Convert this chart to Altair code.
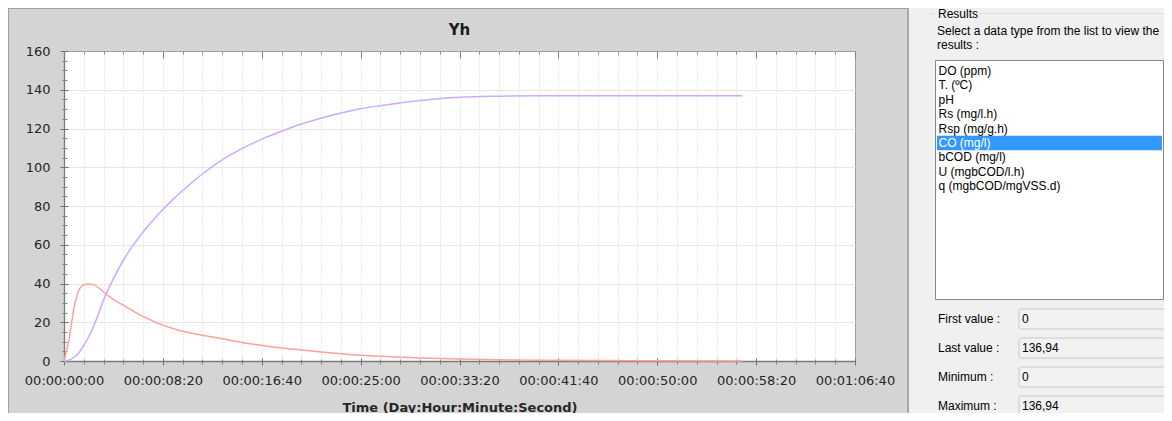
import altair as alt
import pandas as pd

# ---------------- data ----------------
time_s = [0, 25, 50, 75, 100, 125, 150, 175, 200, 250, 300, 350, 400, 450, 500, 550, 600,
          650, 700, 800, 900, 1000, 1100, 1200, 1300, 1400, 1500, 1600, 1800, 2000, 2200,
          2400, 2700, 3000, 3430]
purple_vals = [0, 0.4, 1.8, 4.3, 8, 12.5, 18, 24.5, 31.5, 42.5, 52, 59.8, 66.6, 72.6, 78.2,
               83.3, 88, 92.4, 96.5, 103.8, 109.6, 114.5, 118.6, 122.3, 125.3, 128, 130.2,
               131.8, 134.4, 136.1, 136.7, 136.9, 136.94, 136.94, 136.94]
red_vals = [0, 11, 27, 36.5, 39.3, 39.8, 39.3, 37.8, 35.6, 31.8, 28.8, 25.8, 23, 20.6, 18.5,
            16.8, 15.4, 14.3, 13.3, 11.5, 9.6, 8.1, 6.7, 5.7, 4.7, 3.8, 3.0, 2.4, 1.6, 1.0,
            0.65, 0.4, 0.2, 0.1, 0.05]
series_names = ["Serie 1", "Serie 2"]
series_colors = ["#cdaaff", "#ffa0a0"]

x_major = list(range(0, 4001, 500))
x_minor = [v for v in range(0, 4001, 100) if v % 500]
x_grid = list(range(100, 4000, 100))
y_major = list(range(0, 161, 20))
y_minor = [v for v in range(0, 161, 5) if v % 20]
y_grid = list(range(20, 160, 20))

chart_title = "Yh"
x_title = "Time (Day:Hour:Minute:Second)"

group_title = "Results"
help_lines = ["Select a data type from the list to view the", "results :"]
list_items = ["DO (ppm)", "T. (ºC)", "pH", "Rs (mg/l.h)", "Rsp (mg/g.h)", "CO (mg/l)",
              "bCOD (mg/l)", "U (mgbCOD/l.h)", "q (mgbCOD/mgVSS.d)"]
selected_index = 5
stat_labels = ["First value :", "Last value :", "Minimum :", "Maximum :"]
stat_values = ["0", "136,94", "0", "136,94"]

# ---------------- table ----------------
n = len(time_s)
df = pd.DataFrame({
    "t": time_s + time_s,
    "v": purple_vals + red_vals,
    "s": [series_names[0]] * n + [series_names[1]] * n,
})

W, H = 791, 310
FONT = "DejaVu Sans"
UI_FONT = "Liberation Sans"
LBL = "#262626"

xs = alt.Scale(domain=[0, 4000], nice=False, zero=False)
ys = alt.Scale(domain=[0, 160], nice=False)

lines = alt.Chart(df).mark_line(strokeWidth=1.5, interpolate="monotone").encode(
    x=alt.X("t:Q", scale=xs, axis=None),
    y=alt.Y("v:Q", scale=ys, axis=None),
    color=alt.Color("s:N", scale=alt.Scale(domain=series_names, range=series_colors), legend=None),
)


def xaxis(**kw):
    return alt.Chart(df).mark_point(opacity=0).encode(
        x=alt.X("t:Q", scale=xs, axis=alt.Axis(**kw)), y=alt.value(0))


def yaxis(**kw):
    return alt.Chart(df).mark_point(opacity=0).encode(
        y=alt.Y("v:Q", scale=ys, axis=alt.Axis(**kw)), x=alt.value(0))


noframe = dict(labels=False, domain=False, title=None)
axes = [
    xaxis(orient="bottom", values=x_grid, grid=True, gridColor="#d4d4d4", gridDash=[1, 2],
          ticks=False, **noframe),
    yaxis(orient="left", values=y_grid, grid=True, gridColor="#e6e6e6", ticks=False, **noframe),
    xaxis(orient="bottom", values=x_major, grid=False, ticks=False, domain=True,
          domainColor="#7a7a7a", domainWidth=1.3,
          labelExpr="'00:' + utcFormat(datum.value * 1000, '%H:%M:%S')",
          labelFont=FONT, labelFontSize=13, labelColor=LBL, labelPadding=13,
          labelFlush=False, labelOverlap=False,
          title=x_title, titleFont=FONT, titleFontSize=13, titleFontWeight="bold",
          titleColor=LBL, titlePadding=14),
    xaxis(orient="bottom", values=x_major, grid=False, tickSize=7, offset=-3,
          tickColor="#707070", **noframe),
    xaxis(orient="bottom", values=x_minor, grid=False, tickSize=5, offset=-2,
          tickColor="#808080", **noframe),
    xaxis(orient="top", values=x_major, grid=False, tickSize=7, offset=-7,
          tickColor="#808080", **noframe),
    xaxis(orient="top", values=x_minor, grid=False, tickSize=3, offset=-3,
          tickColor="#909090", **noframe),
    yaxis(orient="left", values=y_major, grid=False, ticks=False, domain=True,
          domainColor="#7a7a7a", domainWidth=1.3,
          labelFont=FONT, labelFontSize=13, labelColor=LBL, labelPadding=14,
          labelBaseline="middle", title=None),
    yaxis(orient="left", values=y_major, grid=False, tickSize=8, offset=-4,
          tickColor="#707070", **noframe),
    yaxis(orient="left", values=y_minor, grid=False, tickSize=5, offset=-3,
          tickColor="#808080", **noframe),
]

one = pd.DataFrame({"k": [0]})


def rect(x1, x2, y1, y2, **kw):
    return alt.Chart(one).mark_rect(**kw).encode(
        x=alt.value(x1), x2=alt.value(x2), y=alt.value(y1), y2=alt.value(y2))


def rule(x1, x2, y1, y2, **kw):
    return alt.Chart(one).mark_rule(**kw).encode(
        x=alt.value(x1), x2=alt.value(x2), y=alt.value(y1), y2=alt.value(y2))


def text(s, x, y, **kw):
    return alt.Chart(one).mark_text(**kw).encode(
        x=alt.value(x), y=alt.value(y), text=alt.value(s))


ui = dict(font=UI_FONT, fontSize=12, color="#000000", align="left", baseline="middle")

item_y0 = 20
item_dy = 14.4
sel_y = item_y0 + selected_index * item_dy

deco = [
    # outer frame of the chart panel
    rule(-56, 844, -42.5, -42.5, color="#a0a0a0", strokeWidth=1),
    rule(-55.5, -55.5, -43, 362, color="#a0a0a0", strokeWidth=1),
    # right panel
    rect(845, 1110, -60, 380, color="#f0f0f0"),
    rule(844, 844, -43, 362, color="#a8a8a8", strokeWidth=2),
    text(chart_title, W / 2, -21.5, font=FONT, fontSize=15, fontWeight="bold",
         color="#1a1a1a", align="center", baseline="middle"),
    # group box
    rule(866, 871, -37.5, -37.5, color="#dcdcdc", strokeWidth=1),
    rule(915, 1110, -37.5, -37.5, color="#dcdcdc", strokeWidth=1),
    text(group_title, 874, -37.5, **ui),
    alt.Chart(one).mark_text(lineBreak="\n", lineHeight=14, **ui).encode(
        x=alt.value(873), y=alt.value(-20), text=alt.value("\n".join(help_lines))),
    # list box
    rect(871.5, 1099.5, 9.5, 248.5, fill="white", stroke="#828790", strokeWidth=1),
    rect(873, 1098, sel_y - 7.2, sel_y + 7.2, color="#3399ff"),
]
for i, item in enumerate(list_items):
    col = "#ffffff" if i == selected_index else "#000000"
    deco.append(text(item, 874.5, item_y0 + i * item_dy, **{**ui, "color": col}))

stat_y0 = 268
stat_dy = 29
for i, (lab, val) in enumerate(zip(stat_labels, stat_values)):
    cy = stat_y0 + i * stat_dy
    deco.append(text(lab, 874, cy, **ui))
    deco.append(rect(955, 1105, cy - 10, cy + 10, fill="#f2f2f2", stroke="#c8c8c8",
                     strokeWidth=1, cornerRadius=2))
    deco.append(text(val, 958, cy, **ui))

chart = alt.layer(*axes, lines, *deco).resolve_axis(
    x="independent", y="independent"
).properties(
    width=W, height=H,
    padding={"left": 56, "top": 43, "right": 309, "bottom": 52},
    autosize=alt.AutoSizeParams(type="none"),
).configure(background="#d4d4d4").configure_view(fill="white", stroke="#a0a0a0")

chart.save("out.html", embed_options={"renderer": "svg", "actions": False})
